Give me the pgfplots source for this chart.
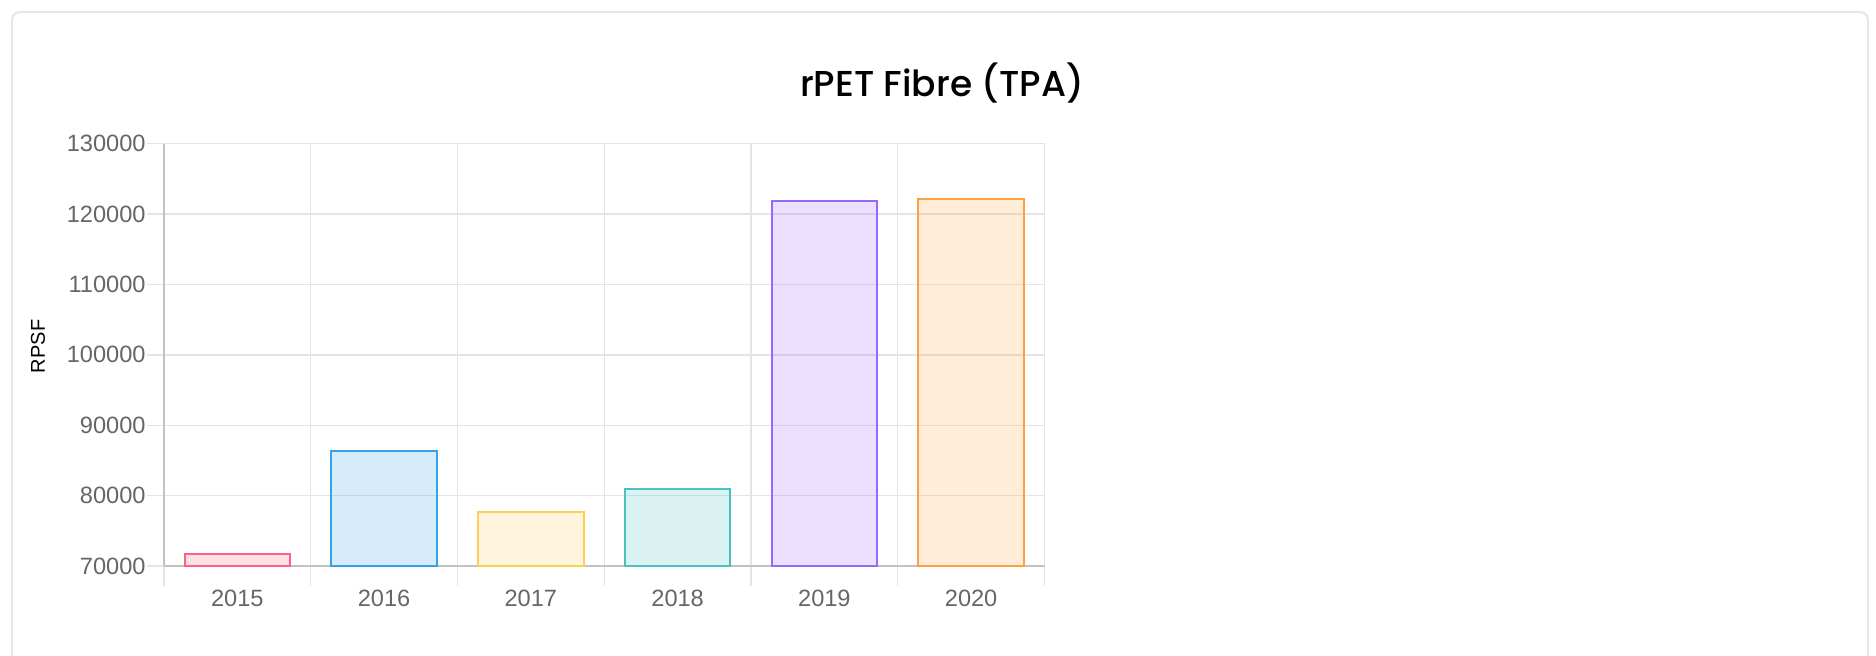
\documentclass[border=0pt]{standalone}
\usepackage{pgfplots}
\pgfplotsset{compat=1.18}
\usepackage{fontspec}
\setmainfont{Liberation Sans}
\newfontfamily\titlefont{Poppins Medium}
\definecolor{gridc}{HTML}{E4E4E4}
\definecolor{axc}{HTML}{C2C2C2}
\definecolor{tickc}{HTML}{666666}
\definecolor{cardc}{HTML}{E6E6E6}
\definecolor{cred}{RGB}{255,99,132}
\definecolor{cblue}{RGB}{54,162,235}
\definecolor{cyellow}{RGB}{255,206,86}
\definecolor{cteal}{RGB}{75,192,192}
\definecolor{cpurple}{RGB}{153,102,255}
\definecolor{corange}{RGB}{255,159,64}
\begin{document}
\begin{tikzpicture}
\useasboundingbox (0pt,0pt) rectangle (938pt,327.5pt);
\clip (0pt,0pt) rectangle (938pt,327.5pt);
\draw[draw=cardc, line width=1pt, rounded corners=4pt] (6pt,-20pt) rectangle (934pt,321.5pt);
\node[font=\titlefont\fontsize{18}{20}\selectfont, anchor=base, text=black] at (471pt,279pt) {rPET Fibre (TPA)};
\begin{axis}[
  at={(82pt,44.5pt)}, anchor=south west,
  scale only axis, width=440.25pt, height=211.2pt,
  ymin=70000, ymax=130000, xmin=-0.5, xmax=5.5,
  ytick={70000,80000,90000,100000,110000,120000,130000},
  yticklabels={70000,80000,90000,100000,110000,120000,130000},
  scaled y ticks=false,
  xtick={0,1,2,3,4,5},
  xticklabels={2015,2016,2017,2018,2019,2020},
  minor xtick={-0.5,0.5,1.5,2.5,3.5,4.5,5.5},
  xminorgrids=true, ymajorgrids=true, xmajorgrids=false,
  grid style={gridc, line width=0.7pt},
  minor grid style={gridc, line width=0.7pt},
  tick align=outside, major tick length=8.5pt, minor tick length=10pt,
  major x tick style={draw=none},
  minor x tick style={draw=gridc, line width=0.7pt},
  ytick style={draw=gridc, line width=0.7pt},
  axis x line*=bottom, axis y line*=left,
  axis line style={axc, line width=0.75pt},
  ticklabel style={font=\fontsize{11.8}{14}\selectfont, text=tickc},
  yticklabel style={inner sep=0.5pt},
  ylabel={RPSF},
  ylabel style={font=\fontsize{10}{12}\selectfont, text=black, at={(axis description cs:-0.143,0.52)}, anchor=center},
  ybar, bar width=0.72, bar shift=0pt,
]
\addplot[draw=cred, fill=cred, fill opacity=0.2, line width=1pt] coordinates {(0,71700)};
\addplot[draw=cblue, fill=cblue, fill opacity=0.2, line width=1pt] coordinates {(1,86300)};
\addplot[draw=cyellow, fill=cyellow, fill opacity=0.2, line width=1pt] coordinates {(2,77700)};
\addplot[draw=cteal, fill=cteal, fill opacity=0.2, line width=1pt] coordinates {(3,80900)};
\addplot[draw=cpurple, fill=cpurple, fill opacity=0.2, line width=1pt] coordinates {(4,121800)};
\addplot[draw=corange, fill=corange, fill opacity=0.2, line width=1pt] coordinates {(5,122200)};
\end{axis}
\end{tikzpicture}
\end{document}
